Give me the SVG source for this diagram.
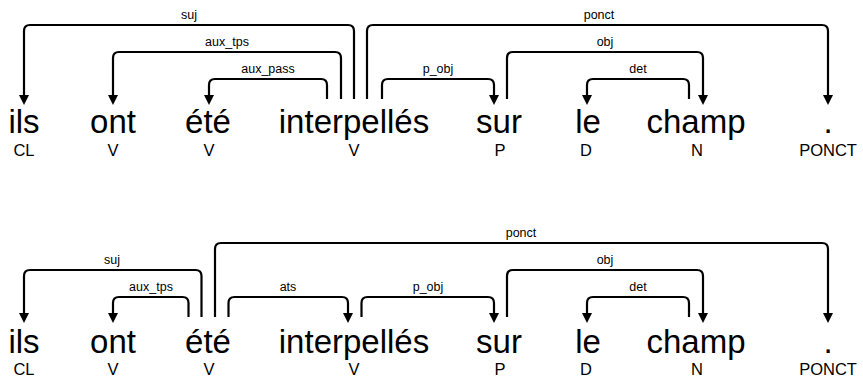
<svg xmlns="http://www.w3.org/2000/svg" width="863" height="378" viewBox="0 0 863 378">
<style>
.w{font-family:"Liberation Sans",Arial,sans-serif;font-size:33px;fill:#000;text-anchor:middle}
.t{font-family:"Liberation Sans",Arial,sans-serif;font-size:16.5px;fill:#000;text-anchor:middle}
.l{font-family:"Liberation Sans",Arial,sans-serif;font-size:12.5px;fill:#000;text-anchor:middle}
.c{fill:none;stroke:#000;stroke-width:2.2;marker-end:url(#ah)}
</style>
<defs>
<marker id="ah" markerUnits="userSpaceOnUse" markerWidth="10" markerHeight="10" viewBox="0 -5 10 10" refX="0" refY="0" orient="auto">
<path d="M0,-5 L10,0 L0,5 z" fill="#000"/>
</marker>
</defs>
<g id="s1-ils"><text class="w" x="24" y="133">ils</text><text class="t" x="24" y="155.5">CL</text></g>
<g id="s1-ont"><text class="w" x="113" y="133">ont</text><text class="t" x="113" y="155.5">V</text></g>
<g id="s1-ete"><text class="w" x="208" y="133">été</text><text class="t" x="209" y="155.5">V</text></g>
<g id="s1-interpelles"><text class="w" x="354" y="133">interpellés</text><text class="t" x="354" y="155.5">V</text></g>
<g id="s1-sur"><text class="w" x="499" y="133">sur</text><text class="t" x="500" y="155.5">P</text></g>
<g id="s1-le"><text class="w" x="588" y="133">le</text><text class="t" x="586" y="155.5">D</text></g>
<g id="s1-champ"><text class="w" x="696" y="133">champ</text><text class="t" x="697" y="155.5">N</text></g>
<g id="s1-point"><text class="w" x="828" y="133">.</text><text class="t" x="828" y="155.5">PONCT</text></g>
<g id="s2-ils"><text class="w" x="24" y="352.5">ils</text><text class="t" x="24" y="375">CL</text></g>
<g id="s2-ont"><text class="w" x="113" y="352.5">ont</text><text class="t" x="113" y="375">V</text></g>
<g id="s2-ete"><text class="w" x="208" y="352.5">été</text><text class="t" x="209" y="375">V</text></g>
<g id="s2-interpelles"><text class="w" x="354" y="352.5">interpellés</text><text class="t" x="354" y="375">V</text></g>
<g id="s2-sur"><text class="w" x="499" y="352.5">sur</text><text class="t" x="500" y="375">P</text></g>
<g id="s2-le"><text class="w" x="588" y="352.5">le</text><text class="t" x="586" y="375">D</text></g>
<g id="s2-champ"><text class="w" x="696" y="352.5">champ</text><text class="t" x="697" y="375">N</text></g>
<g id="s2-point"><text class="w" x="828" y="352.5">.</text><text class="t" x="828" y="375">PONCT</text></g>
<g id="connectors">
<path class="c" d="M354,99 V31 Q354,25 348,25 H30 Q24,25 24,31 V95"/>
<path class="c" d="M341,99 V58 Q341,52 335,52 H119 Q113,52 113,58 V95"/>
<path class="c" d="M327,99 V85 Q327,79 321,79 H215 Q209,79 209,85 V95"/>
<path class="c" d="M367,99 V31 Q367,25 373,25 H822 Q828,25 828,31 V95"/>
<path class="c" d="M382,99 V85 Q382,79 388,79 H488 Q494,79 494,85 V95"/>
<path class="c" d="M507,99 V58 Q507,52 513,52 H697 Q703,52 703,58 V95"/>
<path class="c" d="M689,99 V85 Q689,79 683,79 H593 Q587,79 587,85 V95"/>
<text class="l" x="189" y="19">suj</text>
<text class="l" x="227" y="46">aux_tps</text>
<text class="l" x="268" y="73">aux_pass</text>
<text class="l" x="599" y="19">ponct</text>
<text class="l" x="438" y="73">p_obj</text>
<text class="l" x="605" y="46">obj</text>
<text class="l" x="638" y="73">det</text>
<path class="c" d="M201.5,317 V276 Q201.5,270 195.5,270 H30 Q24,270 24,276 V313"/>
<path class="c" d="M188.5,317 V303 Q188.5,297 182.5,297 H119 Q113,297 113,303 V313"/>
<path class="c" d="M215,317 V249 Q215,243 221,243 H822 Q828,243 828,249 V313"/>
<path class="c" d="M228.5,317 V303 Q228.5,297 234.5,297 H342 Q348,297 348,303 V313"/>
<path class="c" d="M361.5,317 V303 Q361.5,297 367.5,297 H488 Q494,297 494,303 V313"/>
<path class="c" d="M507,317 V276 Q507,270 513,270 H697 Q703,270 703,276 V313"/>
<path class="c" d="M689,317 V303 Q689,297 683,297 H593 Q587,297 587,303 V313"/>
<text class="l" x="112" y="264">suj</text>
<text class="l" x="151" y="291">aux_tps</text>
<text class="l" x="288" y="291">ats</text>
<text class="l" x="428" y="291">p_obj</text>
<text class="l" x="521" y="237">ponct</text>
<text class="l" x="605" y="264">obj</text>
<text class="l" x="638" y="291">det</text>
</g>
</svg>
